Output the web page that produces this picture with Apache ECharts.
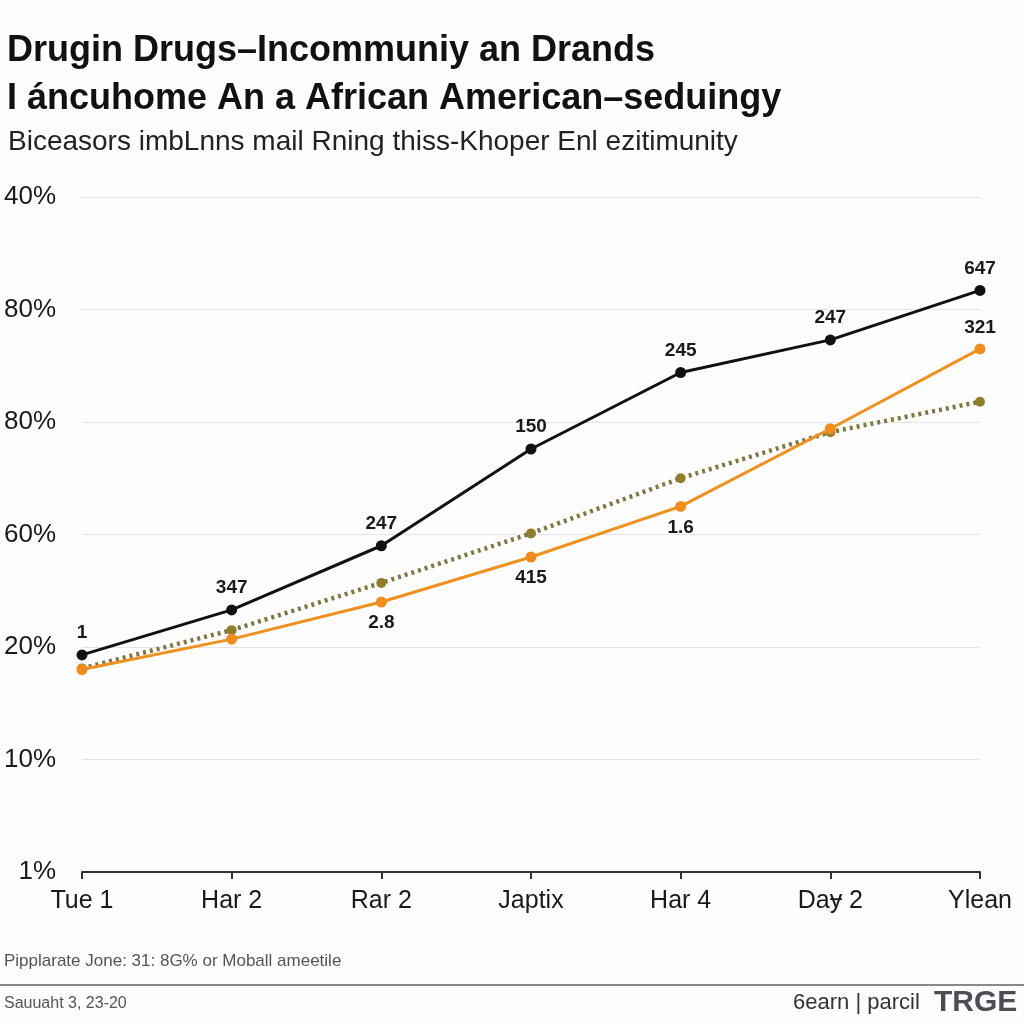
<!DOCTYPE html>
<html>
<head>
<meta charset="utf-8">
<script src="https://cdn.jsdelivr.net/npm/echarts@6/dist/echarts.min.js"></script>
<style>
html,body{margin:0;padding:0;background:#fdfdfd;}
#c{width:1024px;height:1024px;}
</style>
</head>
<body>
<div id="c"></div>
<script>
var categories = ['Tue 1', 'Har 2', 'Rar 2', 'Japtix', 'Har 4', 'Da\u024f 2', 'Ylean'];
var yTickLabels = ['1%', '10%', '20%', '60%', '80%', '80%', '40%'];
var blackValues = [1.93, 2.33, 2.90, 3.76, 4.44, 4.73, 5.17];
var blackLabels = ['1', '347', '247', '150', '245', '247', '647'];
var orangeValues = [1.80, 2.07, 2.40, 2.80, 3.25, 3.94, 4.65];
var orangeLabels = ['', '', '2.8', '415', '1.6', '', '321'];
var orangeLabelPos = ['bottom', 'bottom', 'bottom', 'bottom', 'bottom', 'bottom', 'top'];
var oliveValues = [1.81, 2.15, 2.57, 3.01, 3.50, 3.91, 4.18];

var FONT = '"Liberation Sans", Arial, sans-serif';
var NARROW = '"Liberation Sans Narrow", "Liberation Sans", Arial, sans-serif';

var chart = echarts.init(document.getElementById('c'));

function buildData(vals, labels, positions) {
  return vals.map(function (v, i) {
    var item = { value: v };
    if (labels) {
      item.label = {
        show: labels[i] !== '',
        formatter: labels[i],
        position: positions ? positions[i] : 'top'
      };
    }
    return item;
  });
}

chart.setOption({
  backgroundColor: '#fdfdfd',
  animation: false,
  title: [
    {
      text: 'Drugin Drugs\u2013Incommuniy an Drands\nI \u00e1ncuhome An a African American\u2013seduingy',
      left: 2, top: 22,
      textStyle: { fontFamily: FONT, fontSize: 36, fontWeight: 'bold', color: '#111', lineHeight: 48, letterSpacing: 0.4 }
    },
    {
      text: 'Biceasors imbLnns mail Rning thiss-Khoper Enl ezitimunity',
      left: 3, top: 123,
      textStyle: { fontFamily: FONT, fontSize: 28, fontWeight: 'normal', color: '#222', letterSpacing: 0.1 }
    }
  ],
  grid: { left: 82, right: 44, top: 197, bottom: 152, containLabel: false },
  xAxis: {
    type: 'category',
    data: categories,
    boundaryGap: false,
    axisLine: { show: true, lineStyle: { color: '#333', width: 2 } },
    axisTick: { show: true, length: 7, alignWithLabel: true, lineStyle: { color: '#333', width: 2 } },
    axisLabel: { margin: 17, fontFamily: NARROW, fontSize: 25, color: '#1a1a1a' }
  },
  yAxis: {
    type: 'value',
    min: 0, max: 6, interval: 1,
    axisLine: { show: false },
    axisTick: { show: false },
    splitLine: { show: true, lineStyle: { color: '#e4e4e4', width: 1 } },
    axisLabel: {
      margin: 26, fontFamily: FONT, fontSize: 26, color: '#1a1a1a',
      formatter: function (v) { return yTickLabels[Math.round(v)] || ''; }
    }
  },
  series: [
    {
      name: 'olive',
      type: 'line',
      data: buildData(oliveValues),
      symbol: 'circle', symbolSize: 10,
      itemStyle: { color: '#8f7f2c' },
      lineStyle: { color: '#7f7640', width: 4.5, type: [3, 4] },
      z: 2
    },
    {
      name: 'orange',
      type: 'line',
      data: buildData(orangeValues, orangeLabels, orangeLabelPos),
      symbol: 'circle', symbolSize: 11,
      itemStyle: { color: '#f28c1e' },
      lineStyle: { color: '#f0901f', width: 3 },
      label: { show: true, fontFamily: FONT, fontSize: 19, fontWeight: 'bold', color: '#1a1a1a', distance: 6 },
      z: 3
    },
    {
      name: 'black',
      type: 'line',
      data: buildData(blackValues, blackLabels),
      symbol: 'circle', symbolSize: 11,
      itemStyle: { color: '#111' },
      lineStyle: { color: '#111', width: 3 },
      label: { show: true, position: 'top', fontFamily: FONT, fontSize: 19, fontWeight: 'bold', color: '#1a1a1a', distance: 7 },
      z: 4
    }
  ],
  graphic: [
    { type: 'text', left: 4, top: 953, style: { text: 'Pipplarate Jone: 31: 8G% or Moball ameetile', font: '17px ' + NARROW, fill: '#555' } },
    { type: 'rect', left: 0, top: 984, shape: { width: 1024, height: 2 }, style: { fill: '#8a8a8a' } },
    { type: 'text', left: 4, top: 996, style: { text: 'Sauuaht 3, 23-20', font: '16px ' + NARROW, fill: '#555' } },
    { type: 'text', left: 793, top: 992, style: { text: '6earn | parcil', font: '22px ' + NARROW, fill: '#333' } },
    { type: 'text', left: 934, top: 988, style: { text: 'TRGE', font: 'bold 30px ' + NARROW, fill: '#4a4f55' } }
  ]
});
</script>
</body>
</html>
